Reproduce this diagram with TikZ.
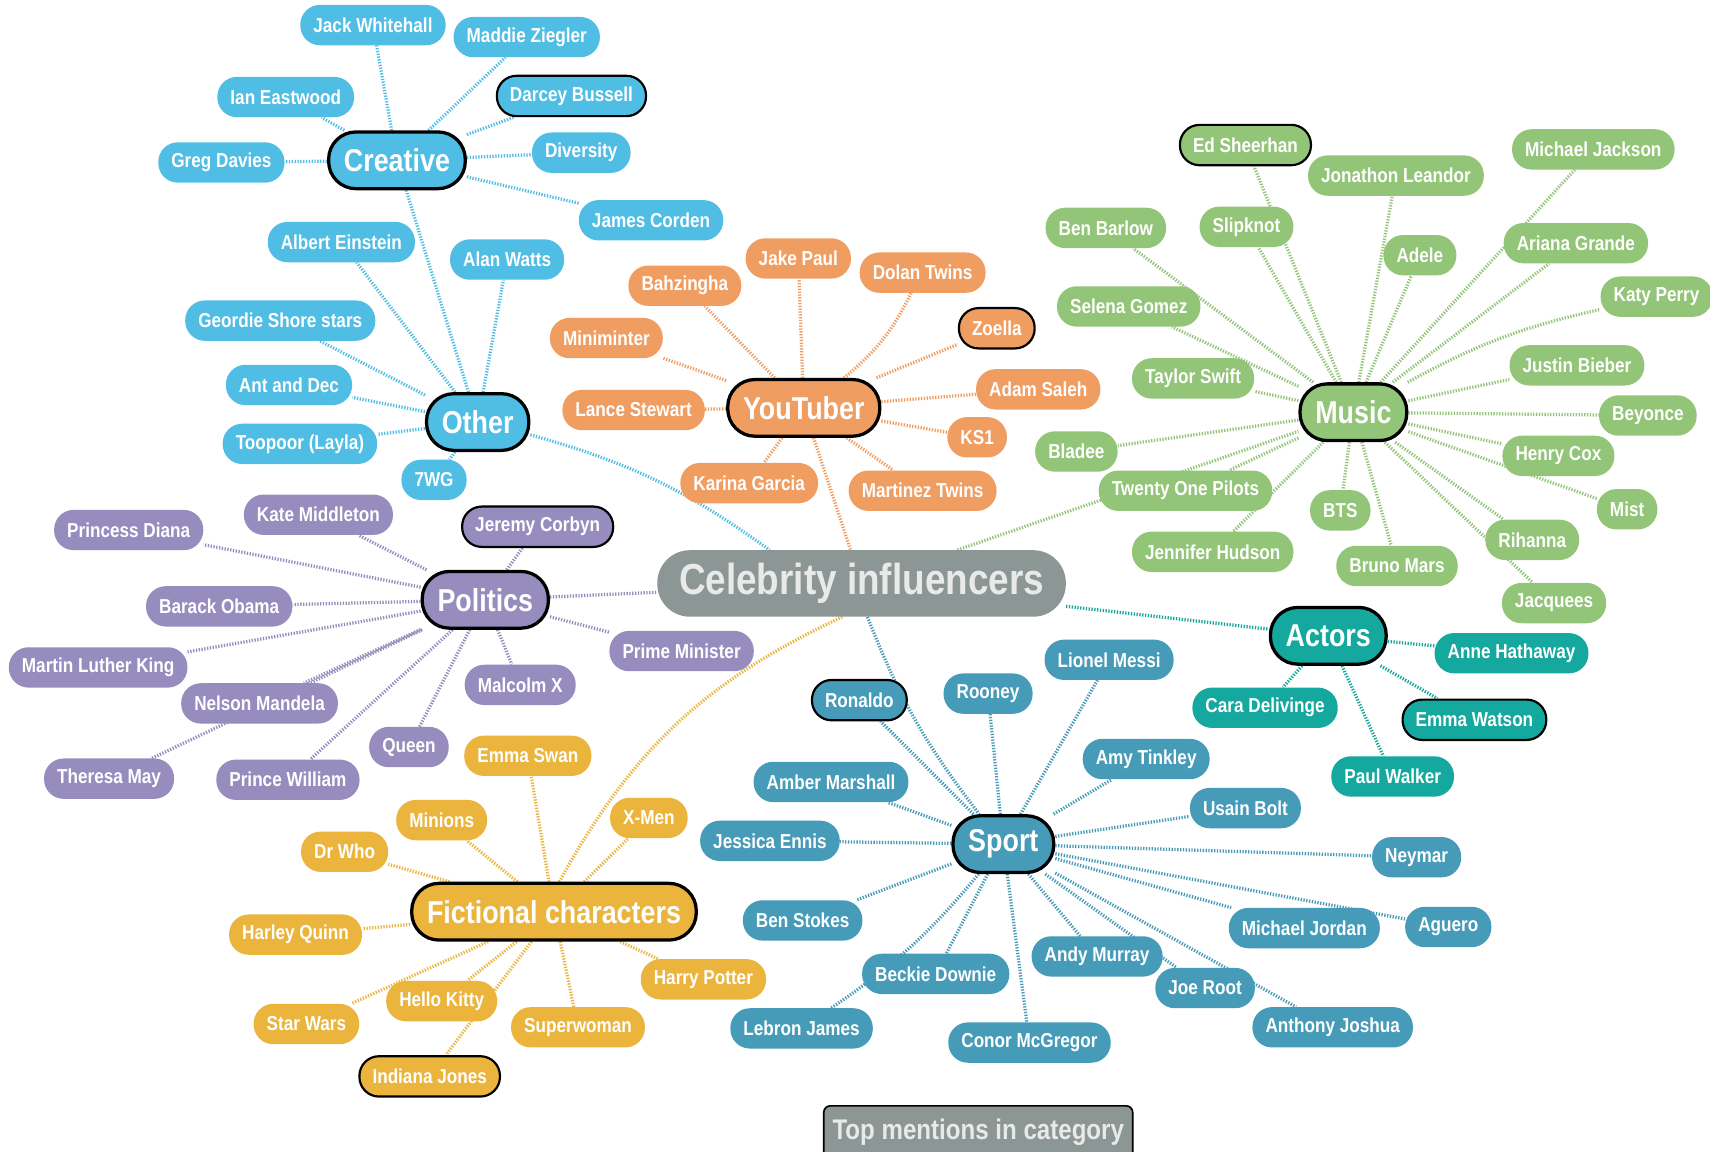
\documentclass[tikz,border=0pt]{standalone}
\usepackage{fontspec}
\setmainfont{Liberation Sans}[FakeStretch=0.85]
\usetikzlibrary{backgrounds}
\definecolor{cblue}{RGB}{80,189,228}
\definecolor{corange}{RGB}{240,157,98}
\definecolor{cgreen}{RGB}{146,197,120}
\definecolor{cpurple}{RGB}{150,141,190}
\definecolor{cteal}{RGB}{20,168,158}
\definecolor{csport}{RGB}{70,155,184}
\definecolor{cgold}{RGB}{235,180,60}
\definecolor{cgray}{RGB}{140,150,148}
\definecolor{ctext}{RGB}{232,234,234}
\tikzset{
  leaf/.style={rounded corners=18pt, minimum height=37pt, inner xsep=12pt, inner ysep=0pt,
    text=white, font=\bfseries\fontsize{18.5}{20}\selectfont},
  topm/.style={draw=black, line width=2pt},
  cat/.style={rounded corners=25pt, minimum height=52pt, inner xsep=14pt, inner ysep=0pt,
    draw=black, line width=3pt, text=white, font=\bfseries\fontsize{29}{32}\selectfont},
  bl/.style={leaf, fill=cblue},
  yo/.style={leaf, fill=corange},
  gr/.style={leaf, fill=cgreen},
  pu/.style={leaf, fill=cpurple},
  te/.style={leaf, fill=cteal},
  sp/.style={leaf, fill=csport},
  go/.style={leaf, fill=cgold},
  link/.style={line width=3pt, dash pattern=on 1.2pt off 1.4pt},
}
\begin{document}
\begin{tikzpicture}[x=1pt,y=-1pt]
\useasboundingbox (0,0) rectangle (1568,1056);
\clip (0,0) rectangle (1568,1056);

% centre
\node[rounded corners=30pt, minimum height=61pt, inner xsep=20pt, inner ysep=0pt, fill=cgray,
  text=ctext, font=\bfseries\fontsize{39.8}{42}\selectfont] (cel) at (790,535) {Celebrity influencers};

% Creative / Other
\node[bl] (jw) at (342,23) {Jack Whitehall};
\node[bl] (mz) at (483,34) {Maddie Ziegler};
\node[bl] (ie) at (262,89) {Ian Eastwood};
\node[bl,topm] (db) at (524,88) {Darcey Bussell};
\node[bl] (gd) at (203,149) {Greg Davies};
\node[cat,fill=cblue] (creative) at (364,147) {Creative};
\node[bl] (div) at (533,140) {Diversity};
\node[bl] (jc) at (597,202) {James Corden};
\node[bl] (ae) at (313,222) {Albert Einstein};
\node[bl] (aw) at (465,238) {Alan Watts};
\node[bl] (gss) at (257,294) {Geordie Shore stars};
\node[bl] (aad) at (265,353) {Ant and Dec};
\node[cat,fill=cblue] (other) at (438,387) {Other};
\node[bl] (tl) at (275,407) {Toopoor (Layla)};
\node[bl] (wg) at (398,440) {7WG};

% YouTuber
\node[yo] (jp) at (732,237) {Jake Paul};
\node[yo] (bah) at (628,262) {Bahzingha};
\node[yo] (dt) at (846,250) {Dolan Twins};
\node[yo] (mm) at (556,310) {Miniminter};
\node[yo,topm] (zo) at (914,301) {Zoella};
\node[yo] (ls) at (581,376) {Lance Stewart};
\node[cat,fill=corange] (yt) at (737,374) {YouTuber};
\node[yo] (as) at (952,357) {Adam Saleh};
\node[yo] (ks) at (896,401) {KS1};
\node[yo] (kg) at (687,443) {Karina Garcia};
\node[yo] (mt) at (846,450) {Martinez Twins};

% Music
\node[gr,topm] (es) at (1142,133) {Ed Sheerhan};
\node[gr] (jl) at (1280,161) {Jonathon Leandor};
\node[gr] (mj) at (1461,137) {Michael Jackson};
\node[gr] (bb) at (1014,209) {Ben Barlow};
\node[gr] (sk) at (1143,208) {Slipknot};
\node[gr] (ad) at (1302,234) {Adele};
\node[gr] (ag) at (1445,223) {Ariana Grande};
\node[gr] (kp) at (1519,272) {Katy Perry};
\node[gr] (sg) at (1035,281) {Selena Gomez};
\node[gr] (ts) at (1094,347) {Taylor Swift};
\node[cat,fill=cgreen] (music) at (1241,378) {Music};
\node[gr] (jb) at (1446,335) {Justin Bieber};
\node[gr] (bey) at (1511,381) {Beyonce};
\node[gr] (bla) at (987,414) {Bladee};
\node[gr] (hc) at (1429,418) {Henry Cox};
\node[gr] (top) at (1087,450) {Twenty One Pilots};
\node[gr] (mist) at (1492,467) {Mist};
\node[gr] (bts) at (1229,468) {BTS};
\node[gr] (rih) at (1405,495) {Rihanna};
\node[gr] (jh) at (1112,506) {Jennifer Hudson};
\node[gr] (bm) at (1281,519) {Bruno Mars};
\node[gr] (jq) at (1425,553) {Jacquees};

% Politics
\node[pu] (pd) at (118,486) {Princess Diana};
\node[pu] (km) at (292,472) {Kate Middleton};
\node[pu,topm] (jcb) at (493,483) {Jeremy Corbyn};
\node[cat,fill=cpurple] (pol) at (445,550) {Politics};
\node[pu] (bo) at (201,556) {Barack Obama};
\node[pu] (mlk) at (90,612) {Martin Luther King};
\node[pu] (pm) at (625,597) {Prime Minister};
\node[pu] (nm) at (238,645) {Nelson Mandela};
\node[pu] (mx) at (477,628) {Malcolm X};
\node[pu] (qu) at (375,685) {Queen};
\node[pu] (tm) at (100,714) {Theresa May};
\node[pu] (pw) at (264,715) {Prince William};

% Actors
\node[cat,fill=cteal] (act) at (1218,583) {Actors};
\node[te] (ah) at (1386,599) {Anne Hathaway};
\node[te] (cd) at (1160,649) {Cara Delivinge};
\node[te,topm] (ew) at (1352,660) {Emma Watson};
\node[te] (pwk) at (1277,712) {Paul Walker};

% Sport
\node[sp] (lm) at (1017,605) {Lionel Messi};
\node[sp,topm] (ro) at (788,642) {Ronaldo};
\node[sp] (rn) at (906,636) {Rooney};
\node[sp] (at) at (1051,696) {Amy Tinkley};
\node[sp] (am) at (762,717) {Amber Marshall};
\node[sp] (ub) at (1142,741) {Usain Bolt};
\node[sp] (je) at (706,771) {Jessica Ennis};
\node[cat,fill=csport] (sport) at (920,774) {Sport};
\node[sp] (ney) at (1299,786) {Neymar};
\node[sp] (bs) at (736,844) {Ben Stokes};
\node[sp] (mjo) at (1196,851) {Michael Jordan};
\node[sp] (agu) at (1328,850) {Aguero};
\node[sp] (amu) at (1006,877) {Andy Murray};
\node[sp] (bd) at (858,893) {Beckie Downie};
\node[sp] (jr) at (1105,906) {Joe Root};
\node[sp] (lj) at (735,943) {Lebron James};
\node[sp] (cm) at (944,956) {Conor McGregor};
\node[sp] (aj) at (1222,942) {Anthony Joshua};

% Fictional
\node[go] (esw) at (484,693) {Emma Swan};
\node[go] (min) at (405,752) {Minions};
\node[go] (xm) at (595,750) {X-Men};
\node[go] (dw) at (316,781) {Dr Who};
\node[cat,fill=cgold] (fic) at (508,836) {Fictional characters};
\node[go] (hq) at (271,857) {Harley Quinn};
\node[go] (hp) at (645,898) {Harry Potter};
\node[go] (sw) at (281,939) {Star Wars};
\node[go] (hk) at (405,918) {Hello Kitty};
\node[go] (sup) at (530,942) {Superwoman};
\node[go,topm] (ij) at (394,987) {Indiana Jones};

% legend
\node[rounded corners=6pt, draw=black, line width=1.5pt, fill=cgray, minimum height=48pt,
  inner xsep=8pt, text=ctext, font=\bfseries\fontsize{26}{28}\selectfont] (leg) at (897,1038) {Top mentions in category};

\begin{scope}[on background layer]
\fill[white] (0,0) rectangle (1568,1056);
\foreach \a in {jw,mz,ie,db,gd,div,jc} \draw[link,cblue] (creative) -- (\a);
\draw[link,cblue] (creative) -- (other);
\foreach \a in {ae,aw,gss,aad,tl,wg} \draw[link,cblue] (other) -- (\a);
\draw[link,cblue] (other) to[bend left=10] (cel.160);
\foreach \a in {jp,bah,mm,zo,ls,as,ks,kg,mt} \draw[link,corange] (yt) -- (\a);
\draw[link,corange] (yt) to[bend right=12] (dt);
\draw[link,corange] (yt) -- (cel);
\foreach \a in {es,jl,mj,bb,sk,ad,ag,sg,ts,jb,bey,bla,hc,top,mist,bts,rih,jh,bm,jq} \draw[link,cgreen] (music) -- (\a);
\draw[link,cgreen] (music) to[bend left=8] (kp);
\draw[link,cgreen] (cel) -- (music);
\foreach \a in {pd,km,jcb,bo,mlk,pm,nm,mx,qu,tm,pw} \draw[link,cpurple] (pol) -- (\a);
\draw[link,cpurple] (pol) -- (cel);
\foreach \a in {ah,cd,ew,pwk} \draw[link,cteal] (act) -- (\a);
\draw[link,cteal] (cel) -- (act);
\foreach \a in {lm,ro,rn,at,am,ub,je,ney,bs,mjo,agu,amu,bd,jr,cm,aj} \draw[link,csport] (sport) -- (\a);
\draw[link,csport] (sport) to[bend left=8] (lj);
\draw[link,csport] (cel.280) to[bend right=8] (sport);
\foreach \a in {esw,min,xm,dw,hq,hp,sw,hk,sup,ij} \draw[link,cgold] (fic) -- (\a);
\draw[link,cgold] (fic.80) to[bend left=18] (cel.240);
\end{scope}
\end{tikzpicture}
\end{document}
